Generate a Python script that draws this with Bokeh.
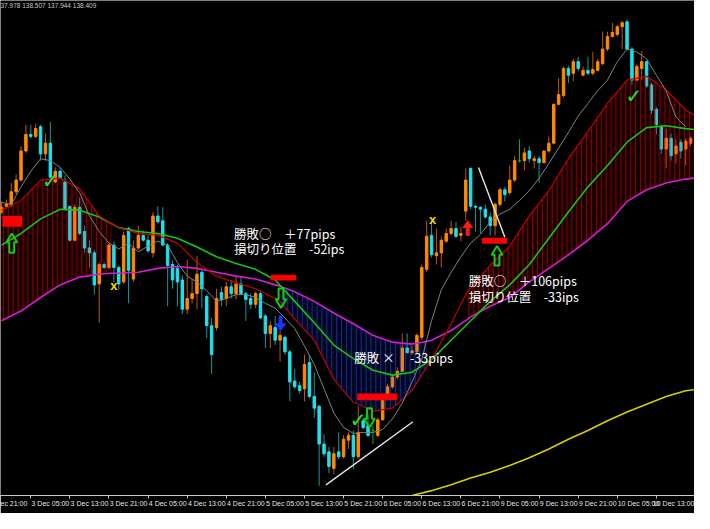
from bokeh.plotting import figure
from bokeh.models import Range1d, FixedTicker, Label, LinearAxis
from bokeh.core.properties import value
from bokeh.embed import file_html
from bokeh.resources import INLINE

# ---------------- data: hourly candles (price) ----------------
opens = [137.82, 137.88, 137.89, 138.03, 138.15, 138.45, 138.62, 138.60, 138.70, 138.42,
         138.53, 138.13, 138.24, 138.13, 137.88, 137.53, 137.87, 137.62, 137.45, 137.40,
         137.08, 137.28, 137.25, 137.48, 137.25, 137.10, 137.65, 137.13, 137.45, 137.58,
         137.53, 137.40, 137.78, 137.73, 137.48, 137.28, 137.24, 137.12, 136.82, 136.93,
         136.98, 137.20, 136.95, 136.65, 136.63, 136.99, 136.93, 137.05, 136.98, 137.08,
         136.98, 136.93, 136.87, 136.98, 136.75, 136.57, 136.63, 136.50, 136.53, 136.38,
         136.08, 136.03, 136.00, 136.27, 135.92, 135.82, 135.43, 135.35, 135.18, 135.35,
         135.30, 135.47, 135.52, 135.30, 135.67, 135.62, 135.57, 135.52, 135.68, 135.93,
         136.02, 136.12, 136.18, 136.42, 136.37, 136.38, 136.53, 137.23, 137.58, 137.37,
         137.40, 137.52, 137.60, 137.65, 137.58, 137.83, 138.27, 137.88, 137.87, 137.85,
         137.77, 137.68, 137.90, 138.05, 138.02, 138.15, 138.35, 138.35, 138.45, 138.35,
         138.37, 138.33, 138.45, 138.53, 138.93, 139.02, 139.30, 139.25, 139.37, 139.23,
         139.28, 139.25, 139.28, 139.35, 139.50, 139.63, 139.65, 139.73, 139.78, 139.50,
         139.18, 139.30, 139.37, 139.13, 138.88, 138.70, 138.47, 138.58, 138.42, 138.54,
         138.47, 138.53]
highs = [137.93, 137.95, 138.12, 138.21, 138.50, 138.72, 138.72, 138.73, 138.72, 138.63,
         138.75, 138.28, 138.28, 138.20, 137.88, 137.90, 137.97, 137.68, 137.53, 137.43,
         137.30, 137.30, 137.50, 137.52, 137.27, 137.62, 137.67, 137.53, 137.68, 137.63,
         137.58, 137.82, 137.88, 137.87, 137.50, 137.32, 137.28, 137.17, 137.33, 137.13,
         137.37, 137.22, 136.97, 136.73, 137.03, 137.05, 137.10, 137.12, 137.15, 137.15,
         137.00, 136.98, 137.00, 137.00, 136.77, 136.70, 136.75, 136.60, 136.55, 136.40,
         136.20, 136.07, 136.35, 136.35, 136.17, 135.83, 135.53, 135.40, 135.40, 135.55,
         135.52, 135.55, 135.57, 135.82, 135.70, 135.73, 135.62, 135.70, 135.95, 136.05,
         136.15, 136.22, 136.57, 136.57, 136.44, 136.57, 137.28, 137.73, 137.73, 137.65,
         137.57, 137.65, 137.73, 137.72, 137.67, 138.27, 138.28, 137.90, 137.88, 137.90,
         137.82, 137.92, 138.07, 138.08, 138.30, 138.40, 138.57, 138.48, 138.50, 138.40,
         138.40, 138.45, 138.60, 138.94, 139.20, 139.32, 139.33, 139.40, 139.42, 139.32,
         139.42, 139.47, 139.40, 139.68, 139.68, 139.77, 139.75, 139.79, 139.80, 139.52,
         139.35, 139.48, 139.38, 139.15, 138.90, 138.72, 138.68, 138.63, 138.57, 138.57,
         138.58, 138.60]
lows = [137.80, 137.86, 137.87, 138.00, 138.13, 138.43, 138.58, 138.58, 138.35, 138.35,
        138.17, 138.12, 138.17, 137.83, 137.52, 137.52, 137.58, 137.40, 137.25, 136.97,
        136.68, 137.23, 137.23, 137.10, 137.02, 137.08, 136.88, 137.10, 137.43, 137.52,
        137.40, 137.35, 137.70, 137.47, 136.85, 137.03, 136.85, 136.77, 136.77, 136.88,
        136.82, 136.83, 136.52, 136.15, 136.60, 136.85, 136.85, 136.93, 136.92, 136.97,
        136.70, 136.82, 136.83, 136.72, 136.42, 136.42, 136.45, 136.28, 136.35, 135.87,
        136.00, 135.95, 135.87, 135.90, 135.70, 135.00, 135.30, 135.13, 135.12, 135.27,
        135.28, 135.38, 135.17, 135.28, 135.58, 135.50, 135.43, 135.50, 135.67, 135.92,
        136.00, 136.10, 136.17, 136.37, 136.35, 136.37, 136.50, 137.20, 137.35, 137.28,
        137.25, 137.50, 137.58, 137.55, 137.52, 137.73, 137.85, 137.62, 137.60, 137.75,
        137.58, 137.58, 137.88, 137.93, 138.00, 138.13, 138.33, 138.25, 138.33, 138.27,
        138.12, 138.32, 138.43, 138.52, 138.92, 139.00, 139.15, 139.17, 139.27, 139.22,
        139.23, 139.23, 139.27, 139.33, 139.48, 139.62, 139.63, 139.50, 139.48, 139.13,
        139.17, 139.18, 139.10, 138.83, 138.62, 138.42, 138.27, 138.35, 138.32, 138.37,
        138.30, 138.50]
closes = [137.87, 137.90, 138.03, 138.15, 138.45, 138.62, 138.60, 138.68, 138.42, 138.53,
          138.18, 138.24, 138.17, 137.85, 137.53, 137.87, 137.60, 137.45, 137.40, 137.07,
          137.28, 137.25, 137.48, 137.25, 137.08, 137.58, 137.22, 137.45, 137.58, 137.53,
          137.42, 137.78, 137.72, 137.48, 137.27, 137.12, 137.10, 136.82, 136.93, 136.98,
          137.18, 137.03, 136.65, 136.35, 136.93, 136.92, 137.05, 136.98, 137.08, 136.98,
          136.92, 136.87, 136.98, 136.73, 136.57, 136.65, 136.50, 136.55, 136.38, 136.07,
          136.02, 135.98, 136.25, 135.92, 135.80, 135.43, 135.33, 135.20, 135.33, 135.30,
          135.48, 135.52, 135.30, 135.55, 135.60, 135.52, 135.57, 135.68, 135.88, 136.02,
          136.12, 136.18, 136.42, 136.37, 136.39, 136.55, 137.25, 137.57, 137.38, 137.40,
          137.53, 137.60, 137.65, 137.57, 137.60, 138.15, 137.88, 137.87, 137.85, 137.77,
          137.68, 137.90, 138.05, 138.00, 138.15, 138.35, 138.35, 138.43, 138.37, 138.37,
          138.33, 138.45, 138.53, 138.93, 139.03, 139.30, 139.23, 139.37, 139.30, 139.28,
          139.25, 139.29, 139.37, 139.50, 139.63, 139.67, 139.73, 139.77, 139.50, 139.18,
          139.32, 139.37, 139.12, 138.87, 138.72, 138.47, 138.58, 138.40, 138.50, 138.45,
          138.55, 138.58]

# ---------------- moving averages ----------------
gray_x = list(range(0, 141, 2))
gray_ma = [137.92, 137.90, 138.08, 138.24, 138.37, 138.35, 138.28, 138.16, 138.02, 137.78,
           137.62, 137.50, 137.44, 137.50, 137.41, 137.47, 137.52, 137.48, 137.30, 137.16,
           137.10, 137.01, 136.90, 136.93, 136.97, 136.97, 136.94, 136.88, 136.83, 136.73,
           136.62, 136.44, 136.25, 136.00, 135.75, 135.60, 135.54, 135.55, 135.55, 135.58,
           135.69, 135.85, 136.07, 136.30, 136.70, 137.02, 137.20, 137.36, 137.50, 137.59,
           137.72, 137.80, 137.85, 137.94, 138.04, 138.17, 138.32, 138.48, 138.64, 138.81,
           138.94, 139.07, 139.18, 139.37, 139.50, 139.47, 139.40, 139.23, 139.07, 138.80,
           138.70]

band_x = [0, 4, 8, 12, 16, 20, 22.5, 24, 28, 32, 36, 40, 44, 48, 52, 56, 56.8, 60, 64, 68,
          72, 76, 80, 84, 87.2, 88, 92, 95.2, 96, 100, 104, 108, 112, 116, 120, 124, 128,
          132, 136, 140, 141.8]
red_ma = [137.84, 137.94, 138.15, 138.17, 138.06, 137.78, 137.70, 137.66, 137.60, 137.58,
          137.50, 137.30, 137.16, 137.09, 137.03, 136.93, 136.91, 136.72, 136.50, 136.10,
          135.86, 135.77, 135.80, 135.98, 136.24, 136.30, 136.67, 136.99, 137.04, 137.27,
          137.47, 137.78, 138.04, 138.37, 138.65, 138.94, 139.18, 139.22, 139.08, 138.87,
          138.82]
magenta_ma = [136.70, 136.80, 136.94, 137.07, 137.15, 137.18, 137.19, 137.19, 137.20, 137.24,
              137.26, 137.24, 137.20, 137.16, 137.13, 137.07, 137.06, 137.00, 136.90, 136.78,
              136.67, 136.55, 136.48, 136.46, 136.49, 136.50, 136.60, 136.71, 136.74, 136.85,
              136.94, 137.10, 137.24, 137.38, 137.53, 137.70, 137.93, 138.05, 138.12, 138.16,
              138.17]

green_x = list(range(0, 141, 4)) + [141.8]
green_ma = [137.48, 137.60, 137.75, 137.85, 137.84, 137.77, 137.66, 137.62, 137.60, 137.55,
            137.46, 137.36, 137.29, 137.23, 137.12, 136.90, 136.68, 136.45, 136.31, 136.19,
            136.14, 136.17, 136.30, 136.50, 136.70, 136.90, 137.07, 137.28, 137.55, 137.82,
            138.08, 138.30, 138.54, 138.69, 138.71, 138.68, 138.67]

yellow_x = list(range(76, 141, 4)) + [141.8]
yellow_ma = [134.78, 134.86, 134.90, 134.95, 135.01, 135.08, 135.14, 135.21, 135.29, 135.38,
             135.48, 135.57, 135.67, 135.76, 135.84, 135.92, 135.98, 135.99]

# band hatch: (start bar, end bar, colour)
hatch_segments = [(0, 22.5, "#E00000"), (56.8, 87.2, "#2040FF"), (95.2, 141.8, "#E00000")]

# ---------------- time axis ----------------
tick_bars = [6 + 8 * k for k in range(17)]
tick_labels = ["3 Dec 05:00", "3 Dec 13:00", "3 Dec 21:00", "4 Dec 05:00", "4 Dec 13:00",
               "4 Dec 21:00", "5 Dec 05:00", "5 Dec 13:00", "5 Dec 21:00", "6 Dec 05:00",
               "6 Dec 13:00", "6 Dec 21:00", "9 Dec 05:00", "9 Dec 13:00", "9 Dec 21:00",
               "10 Dec 05:00", "10 Dec 13:00"]
first_tick_label = "ec 21:00"          # visible part of the clipped "2 Dec 21:00"
header_text = "37.978 138.507 137.944 138.409"

# ---------------- trade annotations ----------------
entry_x0 = [0.2, 55.1, 72.8, 98.3]
entry_x1 = [4.2, 60.3, 81.0, 103.5]
entry_price = [137.725, 137.145, 135.917, 137.525]
entry_thick = [11, 6, 7, 6]

arrow_bar = [2.1, 57.2, 75.3, 101.4]
arrow_tip = [137.60, 136.833, 135.60, 137.47]
arrow_dir = ["up", "down", "down", "up"]

signal_bar = [57.1, 95.4]
signal_tip = [136.60, 137.73]
signal_dir = ["down", "up"]
signal_color = ["#2233FF", "#FF1A1A"]

check_bar = [10.0, 73.0, 129.4]
check_price = [138.14, 135.68, 139.02]

cross_bar = [23.0, 88.2]
cross_price = [137.06, 137.74]

trend_x0 = [66.4, 97.6]
trend_y0 = [135.01, 138.28]
trend_x1 = [84.2, 103.0]
trend_y1 = [135.66, 137.56]

note_bar = [47.6, 47.6, 95.6, 95.6, 72.2]
note_price = [137.70, 137.54, 137.21, 137.05, 136.42]
note_text = ["勝敗○　＋77pips", "損切り位置　-52ips", "勝敗○　＋106pips",
             "損切り位置　-33ips", "勝敗 ×　 -33pips"]

# ---------------- figure ----------------
W, H = 694, 513
PX_PER_BAR = W / 142.0
p = figure(width=W, height=H, x_range=Range1d(-0.2, 141.8), y_range=Range1d(134.90, 140.00),
           output_backend="svg", toolbar_location=None, y_axis_location=None,
           background_fill_color="#000000", border_fill_color="#000000",
           min_border_left=0, min_border_right=0, min_border_top=0, min_border_bottom=18)
p.outline_line_color = None
p.grid.visible = False

# candles
bars = list(range(len(opens)))
body_col, wick_col, tops, bots = [], [], [], []
for o, c in zip(opens, closes):
    if c > o:
        body_col.append("#FF8A00"); wick_col.append("#C2560C")
    elif c < o:
        body_col.append("#1BE3EE"); wick_col.append("#0F9AA2")
    else:
        body_col.append("#00C000"); wick_col.append("#00C000")
    tops.append(max(o, c)); bots.append(min(o, c))

p.segment(x0=bars, y0=highs, x1=bars, y1=lows, line_color=wick_col, line_width=1)
p.vbar(x=bars, top=tops, bottom=bots, width=0.5, fill_color=body_col, line_color=body_col, line_width=1)

# hatched band between red and magenta averages
for s, e, col in hatch_segments:
    idx = [k for k, xv in enumerate(band_x) if s <= xv <= e]
    p.varea(x=[band_x[k] for k in idx], y1=[red_ma[k] for k in idx], y2=[magenta_ma[k] for k in idx],
            fill_color=col, fill_alpha=0.10, hatch_pattern="vertical_line", hatch_color=col,
            hatch_alpha=0.6, hatch_scale=4.9, hatch_weight=1)

# moving averages
p.line(yellow_x, yellow_ma, line_color="#D6CE00", line_width=1.6)
p.line(band_x, magenta_ma, line_color="#D21ED2", line_width=1.6)
p.line(green_x, green_ma, line_color="#10C810", line_width=1.6)
p.line(band_x, red_ma, line_color="#C80000", line_width=1.2)
p.line(gray_x, gray_ma, line_color="#808080", line_width=1)

# trend lines
p.segment(x0=trend_x0, y0=trend_y0, x1=trend_x1, y1=trend_y1, line_color="#E6E6E6", line_width=1.4)

# entry levels
for a, b, pr, th in zip(entry_x0, entry_x1, entry_price, entry_thick):
    p.segment(x0=[a], y0=[pr], x1=[b], y1=[pr], line_color="#FF0000", line_width=th * 0.97,
              line_cap="butt")

# hollow block arrows (shape in reference pixels, 5 px per bar, 100 px per price unit)
hollow_shape = [(0, 0), (5.5, 9), (2.5, 9), (2.5, 20), (-2.5, 20), (-2.5, 9), (-5.5, 9)]
axs, ays = [], []
for b, t, d in zip(arrow_bar, arrow_tip, arrow_dir):
    sgn = -1 if d == "up" else 1
    axs.append([b + dx / 5 for dx, dy in hollow_shape])
    ays.append([t + sgn * dy / 100 for dx, dy in hollow_shape])
p.patches(axs, ays, fill_color=None, line_color="#12CC12", line_width=2)

solid_shape = [(0, 0), (5, 7), (1.5, 7), (1.5, 15), (-1.5, 15), (-1.5, 7), (-5, 7)]
sxs, sys_ = [], []
for b, t, d in zip(signal_bar, signal_tip, signal_dir):
    sgn = -1 if d == "up" else 1
    sxs.append([b + dx / 5 for dx, dy in solid_shape])
    sys_.append([t + sgn * dy / 100 for dx, dy in solid_shape])
p.patches(sxs, sys_, fill_color=signal_color, line_color=signal_color, line_width=1)

# check marks and crosses
p.text(x=check_bar, y=check_price, text=["✓"] * len(check_bar), text_color="#22E522",
       text_font=value("DejaVu Sans"), text_font_size="20px", text_font_style="bold",
       text_align="center", text_baseline="middle")
p.text(x=cross_bar, y=cross_price, text=["x"] * len(cross_bar), text_color="#EEDD00",
       text_font=value("Liberation Sans"), text_font_size="13px", text_font_style="bold",
       text_align="center", text_baseline="middle")

# notes
p.text(x=note_bar, y=note_price, text=note_text, text_color="#FFFFFF",
       text_font=value("Noto Sans CJK JP"), text_font_size="12.5px",
       text_align="left", text_baseline="top")

# x axis: ticks on the main axis, labels (left-aligned look) on a second axis
AXFONT = "Liberation Sans Narrow, Liberation Sans, sans-serif"
CHAR_W = 3.2  # approx px per character at 7px


def label_pos(tick, lab):
    return round(tick + (len(lab) * CHAR_W / 2 + 2) / PX_PER_BAR, 3)


p.xaxis.ticker = FixedTicker(ticks=tick_bars)
p.xaxis.major_label_overrides = {b: "" for b in tick_bars}
p.xaxis.major_label_text_font_size = "1px"
p.xaxis.major_label_standoff = 0
p.xaxis.axis_line_color = "#C8C8C8"
p.xaxis.major_tick_line_color = "#C8C8C8"
p.xaxis.major_tick_out = 3
p.xaxis.major_tick_in = 0
p.xaxis.minor_tick_line_color = None

lab_ticks = [round((len(first_tick_label) * CHAR_W / 2) / PX_PER_BAR - 0.2, 3)]
lab_text = [first_tick_label]
for t, lab in zip(tick_bars, tick_labels):
    lab_ticks.append(label_pos(t, lab))
    lab_text.append(lab)

lab_axis = LinearAxis(ticker=FixedTicker(ticks=lab_ticks),
                      major_label_overrides={t: s for t, s in zip(lab_ticks, lab_text)},
                      axis_line_color=None, major_tick_line_color=None, minor_tick_line_color=None,
                      major_tick_out=0, major_tick_in=0, major_label_standoff=1,
                      major_label_text_font=AXFONT, major_label_text_font_size="7px",
                      major_label_text_color="#E6E6E6")
p.add_layout(lab_axis, "below")

p.add_layout(Label(x=-0.2, y=140.00, y_offset=-1, text=header_text, text_font="Liberation Sans",
                   text_font_size="6.5px", text_color="#C8C8C8", text_baseline="top"))

open("out.html", "w").write(file_html(p, INLINE))
